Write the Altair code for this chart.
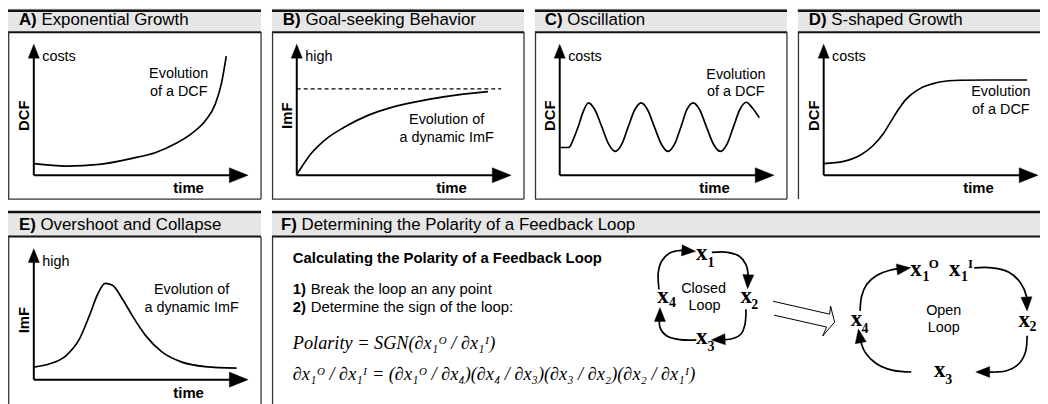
import math
import altair as alt
import pandas as pd

# ------------------------------------------------------------------ DATA
panel_keys = ["A", "B", "C", "D", "E", "F"]
panel_titles = ["Exponential Growth", "Goal-seeking Behavior", "Oscillation",
                "S-shaped Growth", "Overshoot and Collapse",
                "Determining the Polarity of a Feedback Loop"]

# behaviour curves, in percent of the axis length (0 = origin, 100 = arrow tip)
a_time = [0.0, 15.2, 30.6, 45.8, 56.9, 66.2, 73.6, 80.1, 84.7, 87.5, 89.8]
a_level = [8.9, 7.0, 8.3, 12.9, 17.4, 24.2, 31.8, 41.7, 54.5, 69.7, 90.9]

b_time = [0.1, 2.8, 6.6, 12.8, 22.1, 32.9, 46.8, 62.2, 77.7, 89.2]
b_level = [0.8, 7.6, 16.4, 26.5, 36.6, 45.5, 53.0, 58.1, 61.9, 63.9]
b_goal_level = 65.9
b_goal_time = [0.0, 95.4]

c_time = [0.0, 4.2, 6.5, 8.8, 10.6, 13.4, 16.4, 19.7, 22.9, 25.9, 28.9, 31.9,
          35.0, 38.0, 41.0, 44.2, 47.5, 50.5, 53.5, 56.5, 59.3, 62.3, 65.3, 68.5,
          71.8, 75.0, 78.0, 81.0, 84.0, 87.0, 89.8, 93.1]
c_level = [21.2, 21.2, 28.0, 37.9, 47.0, 55.3, 50.0, 36.7, 23.5, 18.2, 23.5, 36.7,
           50.0, 55.3, 50.0, 36.7, 23.5, 18.2, 23.5, 36.7, 50.0, 55.3, 50.0, 36.7,
           23.5, 18.2, 23.5, 36.7, 50.0, 55.7, 51.5, 43.9]

d_time = [0.0, 9.3, 17.0, 23.1, 27.8, 31.6, 35.5, 37.8, 40.1, 43.2, 46.3, 50.1,
          54.0, 63.3, 77.2, 94.9]
d_level = [8.9, 10.6, 15.2, 22.7, 31.6, 41.7, 51.7, 56.8, 60.6, 64.4, 67.4, 69.5,
           71.2, 72.5, 72.7, 72.7]

e_time = [0.0, 7.4, 15.1, 21.3, 25.9, 29.8, 33.3, 36.7, 41.4, 46.0, 52.2, 59.9,
          69.1, 79.9, 94.6]
e_level = [9.6, 12.1, 18.4, 31.1, 48.7, 65.2, 73.5, 72.0, 61.4, 48.7, 33.6, 21.0,
           13.4, 10.0, 8.8]

y_labels = ["DCF", "ImF", "DCF", "DCF", "ImF"]
y_hints = ["costs", "high", "costs", "costs", "high"]
x_label = "time"
curve_notes = [["Evolution", "of a DCF"], ["Evolution of", "a dynamic ImF"],
               ["Evolution", "of a DCF"], ["Evolution", "of a DCF"],
               ["Evolution of", "a dynamic ImF"]]

f_heading = "Calculating the Polarity of a Feedback Loop"
f_step_nums = ["1)", "2)"]
f_steps = ["Break the loop an any point", "Determine the sign of the loop:"]
f_formulas = ["Polarity = SGN(∂x₁ᴼ / ∂x₁ᴵ)",
              "∂x₁ᴼ / ∂x₁ᴵ = (∂x₁ᴼ / ∂x₄)(∂x₄ / ∂x₃)(∂x₃ / ∂x₂)(∂x₂ / ∂x₁ᴵ)"]
closed_subs = ["1", "2", "3", "4"]
open_subs = ["1", "1", "2", "3", "4"]
open_sups = ["O", "I"]
loop_names = [["Closed", "Loop"], ["Open", "Loop"]]

# ------------------------------------------------------------------ LAYOUT
XMIN, XMAX, YMIN, YMAX = 8, 1048, 8, 404
W, H = 1040, 396
AXL, AYL = 216, 132          # axis lengths (origin -> arrow tip)
ROW_TOP = [6, 212]
panel_row = {"A": 0, "B": 0, "C": 0, "D": 0, "E": 1, "F": 1}
panel_x = {"A": (2, 263), "B": (274, 528), "C": (539, 793), "D": (804, 1070),
           "E": (2, 263), "F": (274, 1070)}
box_bottom = [199, 430]
title_x = {"A": 19, "B": 285, "C": 549, "D": 815, "E": 19, "F": 283}
title_gap = {"A": 22.7, "B": 22.7, "C": 22.7, "D": 22.7, "E": 21.7, "F": 20.8}
origins = {"A": (34, 175), "B": (299, 175), "C": (564, 175), "D": (830, 175),
           "E": (34, 381)}
note_pos = {"A": (180, 76.7, 95), "B": (450, 123.3, 141.7), "C": (741.5, 78.3, 95),
            "D": (1008.5, 95, 113.3), "E": (193, 295, 313.3)}

X = alt.X("x:Q", scale=alt.Scale(domain=[XMIN, XMAX], nice=False, zero=False), axis=None)
Y = alt.Y("y:Q", scale=alt.Scale(domain=[YMIN, YMAX], nice=False, zero=False, reverse=True), axis=None)
ARROW = "M0,0L-2,-0.8L-2,0.8Z"
INK = "#111111"


def seg_layer(rows, **props):
    df = pd.DataFrame(rows, columns=["x", "y", "x2", "y2"])
    return alt.Chart(df).mark_rule(**props).encode(x=X, y=Y, x2="x2:Q", y2="y2:Q")


def text_layer(rows, **props):
    df = pd.DataFrame(rows, columns=["x", "y", "t"])
    base = dict(baseline="alphabetic", color="black", font="Liberation Sans")
    base.update(props)
    return alt.Chart(df).mark_text(**base).encode(x=X, y=Y, text="t:N")


layers = []

# ---- panel headers and frames (lines at the page's very edge are kept visible)
head_rects, head_top, head_bot, box_lines = [], [], [], []
for k in panel_keys:
    x0, x1 = panel_x[k]
    t = ROW_TOP[panel_row[k]]
    head_rects.append((x0, t + 1, x1, t + 24))
    top_line = max(t, YMIN + 1.2)
    head_top.append((x0, top_line, x1, top_line))
    head_bot.append((x0, t + 24.8, x1, t + 24.8))
    b = box_bottom[panel_row[k]]
    left = max(x0 + 0.6, XMIN + 0.7)
    box_lines.append((left, t + 25, left, b))
    if x1 < XMAX:
        box_lines.append((x1, t + 25, x1, b))
        box_lines.append((x0, b, x1, b))
hr = pd.DataFrame(head_rects, columns=["x", "y", "x2", "y2"])
layers.append(alt.Chart(hr).mark_rect(fill="#e6e6e6").encode(x=X, y=Y, x2="x2:Q", y2="y2:Q"))
layers.append(seg_layer(head_top, color=INK, strokeWidth=2.4))
layers.append(seg_layer(head_bot, color=INK, strokeWidth=2.0))
layers.append(seg_layer(box_lines, color="#333333", strokeWidth=1.3))

# ---- header texts
title_bold = [(title_x[k], ROW_TOP[panel_row[k]] + 18, k + ")") for k in panel_keys]
title_reg = [(title_x[k] + title_gap[k], ROW_TOP[panel_row[k]] + 18, s)
             for k, s in zip(panel_keys, panel_titles)]
layers.append(text_layer(title_bold, fontSize=17, fontWeight="bold", align="left"))
layers.append(text_layer(title_reg, fontSize=17, align="left"))

# ---- behaviour panels: axes, arrows, curves, labels
axis_segs, heads = [], []
curves = []
series = {"A": (a_time, a_level), "B": (b_time, b_level), "C": (c_time, c_level),
          "D": (d_time, d_level), "E": (e_time, e_level)}
for k, (tt, vv) in series.items():
    ox, oy = origins[k]
    axis_segs.append((ox, oy - AYL + 8, ox, oy))
    axis_segs.append((ox, oy, ox + AXL - 10, oy))
    heads.append((ox, oy - AYL, 270, 14 ** 2))
    heads.append((ox + AXL, oy, 0, 19 ** 2))
    for i, (t, v) in enumerate(zip(tt, vv)):
        curves.append((ox + t / 100 * AXL, oy - v / 100 * AYL, k, i))

layers.append(seg_layer(axis_segs, color="black", strokeWidth=2.0))
cdf = pd.DataFrame(curves, columns=["x", "y", "g", "i"])
layers.append(alt.Chart(cdf).mark_line(color="black", strokeWidth=1.7, interpolate="monotone")
              .encode(x=X, y=Y, detail="g:N", order=alt.Order("i:Q")))

# goal line in B
ox, oy = origins["B"]
layers.append(seg_layer([(ox + b_goal_time[0] / 100 * AXL, oy - b_goal_level / 100 * AYL,
                          ox + b_goal_time[1] / 100 * AXL, oy - b_goal_level / 100 * AYL)],
                        color="black", strokeWidth=1.1, strokeDash=[4, 3]))

hint_rows, rot_rows, time_rows, note_rows = [], [], [], []
for idx, k in enumerate(["A", "B", "C", "D", "E"]):
    ox, oy = origins[k]
    hint_rows.append((ox + 8.5, oy - 115, y_hints[idx]))
    rot_rows.append((ox - 4.5, oy - 60, y_labels[idx]))
    time_rows.append((ox + 156, oy + 18, x_label))
    cx, y1, y2 = note_pos[k]
    note_rows.append((cx, y1, curve_notes[idx][0]))
    note_rows.append((cx, y2, curve_notes[idx][1]))
layers.append(text_layer(hint_rows, fontSize=14.5, align="left"))
layers.append(text_layer(rot_rows, fontSize=15, fontWeight="bold", align="center", angle=270))
layers.append(text_layer(time_rows, fontSize=15, fontWeight="bold", align="center"))
layers.append(text_layer(note_rows, fontSize=14.5, align="center"))

# ---- panel F texts
layers.append(text_layer([(295, 263.3, f_heading)], fontSize=15, fontWeight="bold", align="left"))
layers.append(text_layer([(295, 295, f_step_nums[0]), (295, 313.3, f_step_nums[1])],
                         fontSize=15, fontWeight="bold", align="left"))
layers.append(text_layer([(313, 295, f_steps[0]), (313, 313.3, f_steps[1])],
                         fontSize=15, align="left"))
layers.append(text_layer([(295, 350, f_formulas[0]), (295, 381.5, f_formulas[1])],
                         fontSize=18.4, font="Liberation Serif", fontStyle="italic", align="left"))

# ---- loop diagrams
closed_x = [(707, 260), (752, 304), (707, 345), (668, 304)]
closed_sub_pos = [(716.5, 267), (760.5, 310), (716.5, 352), (677.5, 308)]
open_x = [(923, 277), (962, 277), (1032, 328), (947, 378), (863, 327)]
open_sub_pos = [(933, 282), (972, 282), (1041, 332), (956, 385), (871.5, 334)]
open_sup_pos = [(941, 268.5), (978, 268.5)]
name_pos = [[(709, 293.3), (710, 310.7)], [(951, 315.5), (951, 332.7)]]

xs_rows = [(p[0], p[1], "x") for p in closed_x + open_x]
sub_rows = [(p[0], p[1], s) for p, s in zip(closed_sub_pos + open_sub_pos, closed_subs + open_subs)]
sup_rows = [(p[0], p[1], s) for p, s in zip(open_sup_pos, open_sups)]
layers.append(text_layer(xs_rows, fontSize=23, font="Liberation Serif", fontWeight="bold", align="center"))
layers.append(text_layer(sub_rows, fontSize=14, font="Liberation Serif", fontWeight="bold", align="center"))
layers.append(text_layer(sup_rows, fontSize=13, font="Liberation Serif", fontWeight="bold", align="center"))
name_rows = []
for names, poss in zip(loop_names, name_pos):
    for n, p in zip(names, poss):
        name_rows.append((p[0], p[1], n))
layers.append(text_layer(name_rows, fontSize=14.5, align="center"))

loop_arcs = [
    # closed loop
    ([(664, 290), (663.3, 273.3), (666.7, 261.7), (675, 253.3), (686.7, 250.7)], (701, 251.7)),
    ([(717.3, 252.7), (733.3, 252.7), (745, 256.7), (751.7, 265), (754, 276.7)], (753.3, 289.3)),
    ([(751.7, 310), (750.7, 325), (746.7, 335), (736.7, 340)], (716.7, 341)),
    ([(701.7, 341), (685, 340.7), (671.7, 336.7), (665, 328.3)], (665, 308.3)),
    # open loop
    ([(866.7, 311.7), (868.3, 296.7), (873.3, 285), (883.3, 276), (896.7, 270.7)], (917.7, 268.3)),
    ([(981.7, 268.3), (1000, 268.3), (1016.7, 272.7), (1028.3, 283.3), (1034.3, 296.7)], (1035, 311.7)),
    ([(1035, 336.7), (1033.3, 353.3), (1026.7, 365), (1015, 371.7), (1003.3, 373.3)], (983.3, 373.3)),
    ([(918.3, 373.3), (900, 371.7), (883.3, 365), (871.7, 353.3), (866.7, 340)], (865, 330)),
]
LOOP_HEAD = 14
arc_rows = []
for gi, (pts, tip) in enumerate(loop_arcs):
    lx, ly = pts[-1]
    dx, dy = tip[0] - lx, tip[1] - ly
    d = math.hypot(dx, dy)
    ux, uy = dx / d, dy / d
    full = pts + [(tip[0] - 0.55 * LOOP_HEAD * ux, tip[1] - 0.55 * LOOP_HEAD * uy)]
    for i, (px, py) in enumerate(full):
        arc_rows.append((px, py, gi, i))
    heads.append((tip[0], tip[1], math.degrees(math.atan2(dy, dx)) % 360, LOOP_HEAD ** 2))
adf = pd.DataFrame(arc_rows, columns=["x", "y", "g", "i"])
layers.append(alt.Chart(adf).mark_line(color="black", strokeWidth=1.7, interpolate="catmull-rom")
              .encode(x=X, y=Y, detail="g:N", order=alt.Order("i:Q")))

# hollow double arrow between the loops
hollow = [
    [(779, 302), (836, 315)],
    [(780, 316), (833, 328)],
    [(836, 315), (837, 307), (841, 323), (829, 337), (833, 328)],
]
hrows = []
for gi, pts in enumerate(hollow):
    for i, (px, py) in enumerate(pts):
        hrows.append((px, py, gi, i))
hdf = pd.DataFrame(hrows, columns=["x", "y", "g", "i"])
layers.append(alt.Chart(hdf).mark_line(color="black", strokeWidth=1.0)
              .encode(x=X, y=Y, detail="g:N", order=alt.Order("i:Q")))

# arrowheads
headf = pd.DataFrame(heads, columns=["x", "y", "a", "s"])
layers.append(alt.Chart(headf).mark_point(shape=ARROW, filled=True, fill="black", stroke="black",
                                          strokeWidth=0.4, opacity=1)
              .encode(x=X, y=Y, angle=alt.Angle("a:Q", scale=None), size=alt.Size("s:Q", scale=None)))

chart = (alt.layer(*layers)
         .properties(width=W, height=H, padding=0, autosize=alt.AutoSizeParams(type="none"))
         .configure_view(stroke=None))

chart.save("out.html", embed_options={"renderer": "svg", "actions": False})
